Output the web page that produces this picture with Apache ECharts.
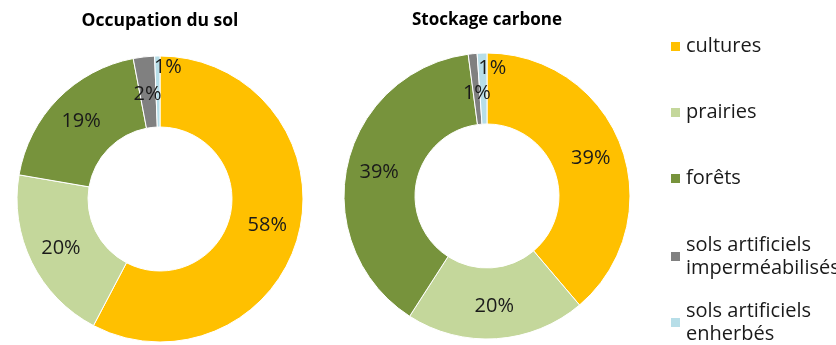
<!DOCTYPE html>
<html><head><meta charset="utf-8">
<script src="https://cdn.jsdelivr.net/npm/echarts@6/dist/echarts.min.js"></script>
<style>html,body{margin:0;padding:0;background:#fff}#c{width:836px;height:345px}</style>
</head><body><div id="c"></div>
<script>
const categories = ['cultures', 'prairies', 'forêts', 'sols artificiels imperméabilisés', 'sols artificiels enherbés'];
const occupationValues = [57.7, 20.0, 19.3, 2.4, 0.6];
const stockageValues = [38.8, 20.3, 38.8, 1.0, 1.1];
const titles = ['Occupation du sol', 'Stockage carbone'];
const colors = ['#FFC000', '#C4D79B', '#77933C', '#808080', '#B7DEE8'];

const FONT = '"Open Sans", "Noto Sans", sans-serif';
const chart = echarts.init(document.getElementById('c'), null, {renderer: 'canvas'});

function pieData(vals, offsets) {
  return categories.map((n, i) => {
    const d = {name: n, value: vals[i], itemStyle: {color: colors[i]}};
    if (offsets[i]) d.label = {offset: offsets[i]};
    return d;
  });
}

function pieSeries(vals, center, offsets) {
  return {
    type: 'pie',
    center: center,
    radius: [72, 143],
    startAngle: 90,
    clockwise: true,
    avoidLabelOverlap: false,
    silent: true,
    itemStyle: {borderColor: '#fff', borderWidth: 1},
    label: {
      show: true, position: 'inside', formatter: '{d}%', color: '#1a1a1a',
      fontFamily: FONT, fontSize: 20
    },
    labelLayout: {hideOverlap: false},
    labelLine: {show: false},
    percentPrecision: 0,
    data: pieData(vals, offsets)
  };
}

const legendTops = [30, 96, 162, 217, 283];
const legends = categories.map((n, i) => {
  const multi = n.startsWith('sols artificiels ');
  return {
    orient: 'vertical', left: 664, top: legendTops[i],
    data: [n], icon: 'rect', itemWidth: 11, itemHeight: 11, itemGap: 0,
    selectedMode: false,
    formatter: nm => nm.replace('sols artificiels ', 'sols artificiels\n'),
    textStyle: {
      fontFamily: FONT, fontSize: 20, color: '#1a1a1a', lineHeight: 23,
      padding: multi ? [23, 0, 0, 0] : 0
    }
  };
});

chart.setOption({
  animation: false,
  title: [
    {text: titles[0], left: 155, top: 7, textAlign: 'center',
     textStyle: {fontFamily: FONT, fontSize: 17.5, fontWeight: 'bold', color: '#000'}},
    {text: titles[1], left: 482, top: 7, textAlign: 'center',
     textStyle: {fontFamily: FONT, fontSize: 17, fontWeight: 'bold', color: '#000'}}
  ],
  legend: legends,
  series: [
    pieSeries(occupationValues, [160, 199], {4: [10, -21], 3: [0, 5]}),
    pieSeries(stockageValues, [487, 196], {4: [9, -17], 3: [1, 7]})
  ]
});
</script></body></html>
